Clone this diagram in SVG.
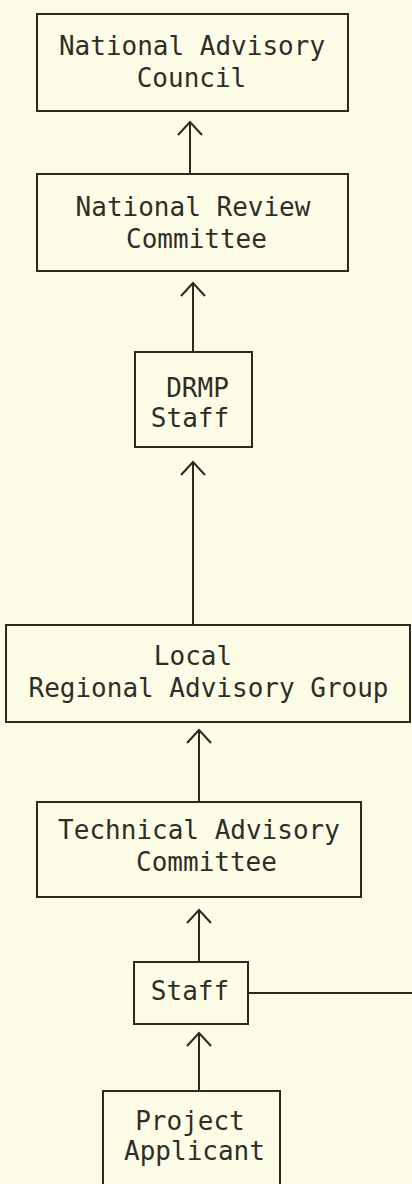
<svg xmlns="http://www.w3.org/2000/svg" width="412" height="1184" viewBox="0 0 412 1184">
<style>
  .box { fill: none; stroke: #2a2a22; stroke-width: 2; }
  .lbl { font-family: "DejaVu Sans Mono", "Liberation Mono", monospace; font-size: 26px; fill: #2e2e28; text-anchor: middle; }
  .edge { fill: none; stroke: #2a2a22; stroke-width: 2; }
</style>
<defs>
  <marker id="arr" viewBox="-2 -2 17 28" refX="13" refY="12" markerWidth="17" markerHeight="28" markerUnits="userSpaceOnUse" orient="auto">
    <path d="M0,0 L13,12 L0,24" fill="none" stroke="#2a2a22" stroke-width="2"/>
  </marker>
</defs>
<rect width="412" height="1184" fill="#fdfde7"/>

<g id="connectors">
  <line class="edge" x1="190" y1="174" x2="190" y2="122" marker-end="url(#arr)"/>
  <line class="edge" x1="193" y1="352" x2="193" y2="283" marker-end="url(#arr)"/>
  <line class="edge" x1="193" y1="625" x2="193" y2="462" marker-end="url(#arr)"/>
  <line class="edge" x1="199" y1="802" x2="199" y2="730" marker-end="url(#arr)"/>
  <line class="edge" x1="199" y1="962" x2="199" y2="910" marker-end="url(#arr)"/>
  <line class="edge" x1="199" y1="1091" x2="199" y2="1033" marker-end="url(#arr)"/>
  <line class="edge" x1="248" y1="993" x2="412" y2="993"/>
</g>

<g id="national-advisory-council">
  <rect class="box" x="37" y="14" width="311" height="97"/>
  <text class="lbl" x="192" y="55">National Advisory</text>
  <text class="lbl" x="191.5" y="87">Council</text>
</g>

<g id="national-review-committee">
  <rect class="box" x="37" y="174" width="311" height="97"/>
  <text class="lbl" x="193" y="216">National Review</text>
  <text class="lbl" x="196.5" y="248">Committee</text>
</g>

<g id="drmp-staff">
  <rect class="box" x="135" y="352" width="117" height="95"/>
  <text class="lbl" x="197.5" y="397">DRMP</text>
  <text class="lbl" x="190" y="427">Staff</text>
</g>

<g id="local-regional-advisory-group">
  <rect class="box" x="6" y="625" width="404" height="97"/>
  <text class="lbl" x="193" y="665">Local</text>
  <text class="lbl" x="208.5" y="697">Regional Advisory Group</text>
</g>

<g id="technical-advisory-committee">
  <rect class="box" x="37" y="802" width="324" height="95"/>
  <text class="lbl" x="199" y="839">Technical Advisory</text>
  <text class="lbl" x="206.5" y="871">Committee</text>
</g>

<g id="staff">
  <rect class="box" x="134" y="962" width="114" height="62"/>
  <text class="lbl" x="190" y="1000">Staff</text>
</g>

<g id="project-applicant">
  <rect class="box" x="103" y="1091" width="177" height="110"/>
  <text class="lbl" x="190" y="1130">Project</text>
  <text class="lbl" x="194.5" y="1160">Applicant</text>
</g>
</svg>
